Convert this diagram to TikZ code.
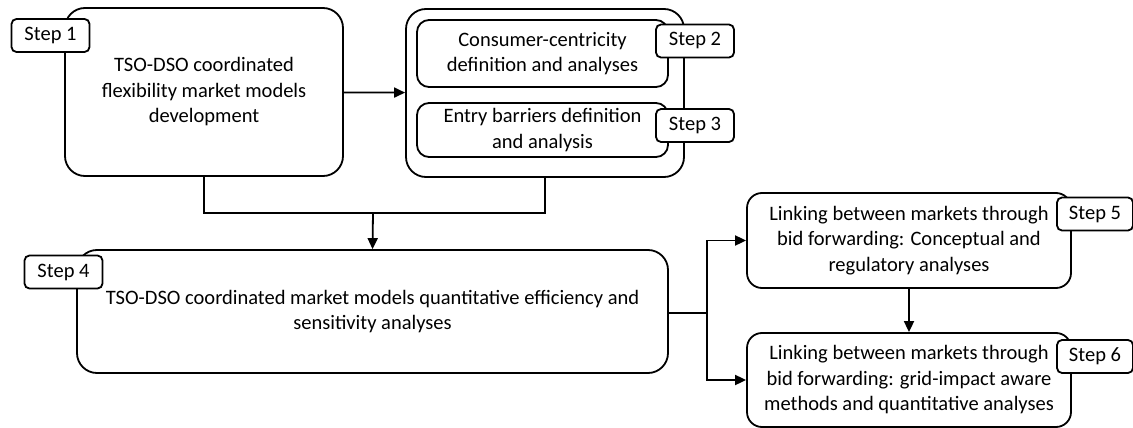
\documentclass[tikz,border=0pt]{standalone}
\usepackage{fontspec}
\setmainfont{Carlito}
\usetikzlibrary{arrows.meta}
\begin{document}
\begin{tikzpicture}[x=1pt, y=-1pt, >={Triangle[length=11pt,width=10pt]}, line width=1.8pt,
	box/.style={draw, rounded corners=20pt, align=center, inner sep=0pt},
	sub/.style={draw, rounded corners=12pt, align=center, inner sep=0pt, minimum width=251pt},
	tag/.style={draw, fill=white, rounded corners=5pt, inner sep=0pt, minimum width=78pt, minimum height=33pt}]
				\useasboundingbox (0,0) rectangle (1133,428);
				\fontsize{20.5pt}{25.5pt}\selectfont
				\node[box, minimum width=278pt, minimum height=168pt] (s1) at (204,92) {TSO-DSO coordinated\\flexibility market models\\development};
				\node[box, minimum width=278pt, minimum height=168pt] (grp) at (545,93) {};
				\node[sub, minimum height=67pt] (s2) at (542.5,53.5) {Consumer-centricity\\definition and analyses};
				\node[sub, minimum height=54pt] (s3) at (542.5,130) {Entry barriers definition\\and analysis};
				\node[box, minimum width=591pt, minimum height=123pt] (s4) at (372.5,311.5) {TSO-DSO coordinated market models quantitative efficiency and\\sensitivity analyses};
				\node[box, rounded corners=15pt, minimum width=324pt, minimum height=95pt] (s5) at (909,240.5) {Linking between markets through\\bid forwarding: Conceptual and\\regulatory analyses};
				\node[box, rounded corners=15pt, minimum width=324pt, minimum height=94pt] (s6) at (909,380) {Linking between markets through\\bid forwarding: grid-impact aware\\methods and quantitative analyses};
				\node[tag] (t1) at (50.5,35.5) {Step 1};
				\node[tag] (t2) at (695,41) {Step 2};
				\node[tag] (t3) at (695,125.5) {Step 3};
				\node[tag] (t4) at (63.5,272) {Step 4};
				\node[tag, minimum width=76pt] (t5) at (1095,214) {Step 5};
				\node[tag, minimum width=76pt] (t6) at (1095,356.5) {Step 6};
				\coordinate (join) at (373,213);
				\coordinate (fork) at (707,313);
				\draw[->] (s1) -- (grp);
				\draw (s1.south) |- (join) -| (grp.south);
				\draw[->] (join) -- (s4.north);
				\draw (s4.east |- fork) -- (fork);
				\draw[->] (fork) |- (s5.west);
				\draw[->] (fork) |- (s6.west);
				\draw[->] (s5) -- (s6);
			\end{tikzpicture}
\end{document}
